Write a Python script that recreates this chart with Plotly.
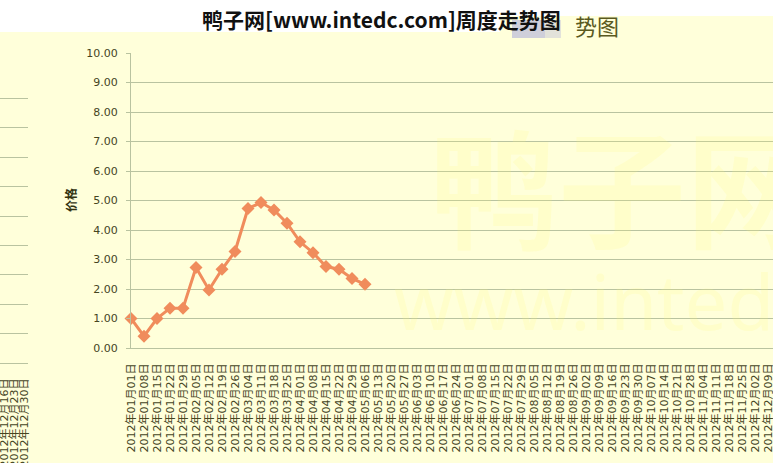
import datetime as dt
import plotly.graph_objects as go

# ---------------- data ----------------
start = dt.date(2012, 1, 1)
weeks = [(start + dt.timedelta(days=7 * i)).strftime("%Y年%m月%d日") for i in range(53)]
price_weeks = weeks[:19]
prices = [1.00, 0.40, 1.00, 1.35, 1.35, 2.73, 1.97, 2.67, 3.27, 4.73,
          4.93, 4.68, 4.23, 3.60, 3.23, 2.76, 2.67, 2.36, 2.16]
y_title = "价格"
chart_title = "鸭子网[www.intedc.com]周度走势图"

# ---------------- styling ----------------
W, H = 773, 463
BG = "#FFFFDA"
GRID = "#B9C3A0"
TXT = "#45451F"
LINE = "#F08C5C"
FONT = "DejaVu Sans, Noto Sans CJK SC"
WM = "rgba(255,248,120,0.16)"

def px_x(x):
    return x / W

def px_y(y):
    return 1 - y / H

fig = go.Figure()

fig.add_trace(go.Scatter(x=weeks, y=[None] * len(weeks), mode="lines",
                         showlegend=False, hoverinfo="skip", xaxis="x", yaxis="y"))
fig.add_trace(go.Scatter(x=weeks, y=[None] * len(weeks), mode="lines",
                         showlegend=False, hoverinfo="skip", xaxis="x2", yaxis="y2"))

fig.add_trace(go.Scatter(
    x=price_weeks, y=prices, mode="lines+markers",
    line=dict(color=LINE, width=3),
    marker=dict(symbol="diamond", size=10, color=LINE),
    showlegend=False, xaxis="x", yaxis="y", cliponaxis=False,
))

step = 13.0
x0_px = 131
fig.update_layout(
    width=W, height=H, autosize=False,
    margin=dict(l=0, r=0, t=0, b=0, pad=0, autoexpand=False),
    paper_bgcolor=BG, plot_bgcolor="rgba(0,0,0,0)",
    font=dict(family=FONT, size=11, color=TXT),
    showlegend=False,
    xaxis=dict(
        type="category", categoryorder="array", categoryarray=weeks,
        domain=[px_x(x0_px), 1], range=[0, (W - x0_px) / step],
        tickmode="linear", tick0=0, dtick=1, automargin=False,
        showgrid=False, zeroline=False, showline=True, linecolor=GRID, linewidth=1,
        ticks="", tickangle=-90, ticklabelstandoff=10,
        tickfont=dict(family=FONT, size=11, color=TXT), anchor="y",
    ),
    yaxis=dict(
        domain=[px_y(348), px_y(53)], range=[0, 10], dtick=1, tickformat=".2f",
        automargin=False,
        showgrid=True, gridcolor=GRID, gridwidth=1, zeroline=False,
        showline=True, linecolor=GRID, linewidth=1,
        ticks="outside", ticklen=4, tickcolor=GRID, ticklabelstandoff=6,
        tickfont=dict(family=FONT, size=11, color=TXT), anchor="x",
    ),
    xaxis2=dict(
        type="category", categoryorder="array", categoryarray=weeks,
        domain=[0, px_x(28)], range=[49.6, 52.4],
        tickmode="linear", tick0=0, dtick=1, automargin=False,
        showgrid=False, zeroline=False, showline=True, linecolor=GRID, linewidth=1,
        ticks="", tickangle=-90, ticklabelstandoff=10,
        tickfont=dict(family=FONT, size=11, color=TXT), anchor="y2",
    ),
    yaxis2=dict(
        domain=[px_y(363), px_y(69)], range=[0, 10], dtick=1, automargin=False,
        showgrid=True, gridcolor=GRID, gridwidth=1, zeroline=False,
        showline=False, showticklabels=False, ticks="", anchor="x2",
    ),
    shapes=[
        dict(type="rect", xref="paper", yref="paper", x0=-0.05, x1=px_x(500),
             y0=px_y(32), y1=1.05, fillcolor="white", line=dict(width=0), layer="below"),
        dict(type="rect", xref="paper", yref="paper", x0=px_x(500), x1=1.05,
             y0=px_y(16), y1=1.05, fillcolor="white", line=dict(width=0), layer="below"),
        dict(type="rect", xref="paper", yref="paper", x0=px_x(512), x1=px_x(545),
             y0=px_y(38), y1=px_y(20), fillcolor="#CFCFDA", line=dict(width=0), layer="below"),
        dict(type="rect", xref="paper", yref="paper", x0=px_x(545), x1=px_x(561),
             y0=px_y(38), y1=px_y(20), fillcolor="#E2E2DA", line=dict(width=0), layer="below"),
    ],
    annotations=[
        dict(text="<b>鸭子网</b>", x=px_x(428), y=px_y(183), xref="paper", yref="paper",
             xanchor="left", yanchor="middle", showarrow=False,
             font=dict(family="Noto Sans CJK SC", size=128, color=WM)),
        dict(text="www.intedc.com", x=px_x(392), y=px_y(300), xref="paper", yref="paper",
             xanchor="left", yanchor="middle", showarrow=False,
             font=dict(family="Noto Sans", size=76, color=WM)),
        dict(text="<b>" + chart_title + "</b>", x=px_x(381), y=px_y(19), xref="paper", yref="paper",
             xanchor="center", yanchor="middle", showarrow=False,
             font=dict(family="Noto Sans CJK SC", size=21, color="#111111")),
        dict(text="势图", x=px_x(597), y=px_y(25), xref="paper", yref="paper",
             xanchor="center", yanchor="middle", showarrow=False,
             font=dict(family="Noto Sans CJK SC", size=22, color="#5A5A1E")),
        dict(text="<b>" + y_title + "</b>", x=px_x(70), y=px_y(200), xref="paper", yref="paper",
             xanchor="center", yanchor="middle", textangle=-90, showarrow=False,
             font=dict(family="Noto Sans CJK SC", size=12, color="#333311")),
    ],
)

fig.write_html("out.html", config={"displayModeBar": False},
               post_script="document.body.style.margin='0px';")
